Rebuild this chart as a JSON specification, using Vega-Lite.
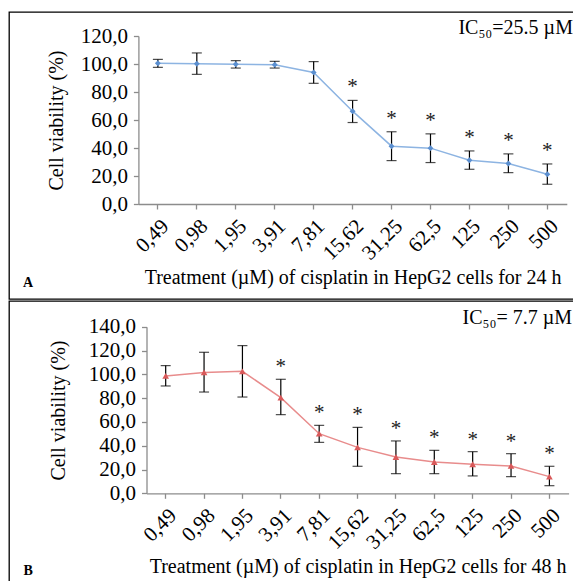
{
  "$schema": "https://vega.github.io/schema/vega-lite/v6.json",
  "padding": {"left": 8, "top": 11, "right": 0, "bottom": 0},
  "spacing": 0,
  "background": "white",
  "config": {
    "view": {"stroke": "black", "strokeWidth": 1.3},
    "font": "Liberation Serif",
    "axis": {"labelFont": "Liberation Serif", "titleFont": "Liberation Serif", "labelFontSize": 21, "titleFontSize": 20, "labelColor": "black", "titleColor": "black", "titleFontWeight": "normal", "domainColor": "#8c8c8c", "tickColor": "#8c8c8c", "domainWidth": 1.3, "tickWidth": 1.3, "grid": false, "tickSize": 5, "labelPadding": 6}
  },
  "datasets": {
    "h24": [
      {"conc": "0,49", "mean": 100.5, "lo": 97.6, "hi": 103.3, "sig": ""},
      {"conc": "0,98", "mean": 100.2, "lo": 92.6, "hi": 107.9, "sig": ""},
      {"conc": "1,95", "mean": 99.8, "lo": 97.1, "hi": 102.4, "sig": ""},
      {"conc": "3,91", "mean": 99.5, "lo": 97.1, "hi": 101.9, "sig": ""},
      {"conc": "7,81", "mean": 94.0, "lo": 86.2, "hi": 101.7, "sig": ""},
      {"conc": "15,62", "mean": 66.3, "lo": 58.2, "hi": 74.0, "sig": "*"},
      {"conc": "31,25", "mean": 41.3, "lo": 31.0, "hi": 51.6, "sig": "*"},
      {"conc": "62,5", "mean": 39.9, "lo": 29.6, "hi": 50.1, "sig": "*"},
      {"conc": "125", "mean": 31.3, "lo": 24.8, "hi": 37.9, "sig": "*"},
      {"conc": "250", "mean": 28.9, "lo": 22.4, "hi": 35.8, "sig": "*"},
      {"conc": "500", "mean": 21.2, "lo": 14.1, "hi": 28.6, "sig": "*"}
    ],
    "h48": [
      {"conc": "0,49", "mean": 98.6, "lo": 90.2, "hi": 107.3, "sig": ""},
      {"conc": "0,98", "mean": 101.6, "lo": 85.1, "hi": 118.5, "sig": ""},
      {"conc": "1,95", "mean": 102.5, "lo": 80.9, "hi": 124.1, "sig": ""},
      {"conc": "3,91", "mean": 80.4, "lo": 66.1, "hi": 95.8, "sig": "*"},
      {"conc": "7,81", "mean": 50.1, "lo": 42.8, "hi": 57.1, "sig": "*"},
      {"conc": "15,62", "mean": 38.6, "lo": 22.7, "hi": 55.4, "sig": "*"},
      {"conc": "31,25", "mean": 30.5, "lo": 16.5, "hi": 44.0, "sig": "*"},
      {"conc": "62,5", "mean": 26.3, "lo": 16.5, "hi": 36.1, "sig": "*"},
      {"conc": "125", "mean": 24.4, "lo": 14.6, "hi": 35.0, "sig": "*"},
      {"conc": "250", "mean": 23.0, "lo": 14.0, "hi": 33.3, "sig": "*"},
      {"conc": "500", "mean": 14.0, "lo": 6.4, "hi": 22.7, "sig": "*"}
    ]
  },
  "vconcat": [
    {
      "width": 570,
      "height": 287,
      "data": {"name": "h24"},
      "encoding": {
        "x": {"field": "conc", "type": "ordinal", "sort": null,
          "scale": {"range": [129.4, 557.8], "paddingInner": 0, "paddingOuter": 0},
          "axis": {"offset": -95, "labelAngle": -45, "title": "Treatment (µM) of cisplatin in HepG2 cells for 24 h", "titlePadding": 4}}
      },
      "layer": [
        {
          "mark": {"type": "rule", "color": "black", "strokeWidth": 1.2},
          "encoding": {
            "y": {"field": "lo", "type": "quantitative", "scale": {"domain": [0, 120], "range": [192, 24], "nice": false, "zero": false},
              "axis": {"offset": -129.4, "values": [0, 20, 40, 60, 80, 100, 120], "labelExpr": "replace(format(datum.value, '.1f'), '.', ',')", "title": "Cell viability (%)", "titlePadding": 14}},
            "y2": {"field": "hi"}
          }
        },
        {
          "mark": {"type": "tick", "color": "black", "size": 10, "thickness": 1.2, "orient": "horizontal"},
          "encoding": {"y": {"field": "lo", "type": "quantitative"}}
        },
        {
          "mark": {"type": "tick", "color": "black", "size": 10, "thickness": 1.2, "orient": "horizontal"},
          "encoding": {"y": {"field": "hi", "type": "quantitative"}}
        },
        {
          "mark": {"type": "line", "color": "#8db4e2", "strokeWidth": 1.5},
          "encoding": {"y": {"field": "mean", "type": "quantitative"}}
        },
        {
          "mark": {"type": "point", "shape": "diamond", "filled": true, "color": "#5b8fd0", "size": 35, "opacity": 1},
          "encoding": {"y": {"field": "mean", "type": "quantitative"}}
        },
        {
          "mark": {"type": "text", "fontSize": 21, "font": "Liberation Serif", "color": "#222", "baseline": "alphabetic", "dy": -7},
          "encoding": {"y": {"field": "hi", "type": "quantitative"}, "text": {"field": "sig"}}
        },
        {
          "data": {"values": [{"label": "IC₅₀=25.5 µM"}]},
          "mark": {"type": "text", "fontSize": 20, "font": "Liberation Serif", "color": "black", "align": "right", "baseline": "alphabetic", "dx": 25.6, "dy": -2},
          "encoding": {"x": {"datum": "500"}, "y": {"datum": 120}, "text": {"field": "label"}}
        },
        {
          "data": {"values": [{"label": "A"}]},
          "mark": {"type": "text", "fontSize": 14, "fontWeight": "bold", "font": "Liberation Serif", "color": "black", "align": "left", "baseline": "alphabetic", "dx": -134.8, "dy": 82.7},
          "encoding": {"x": {"datum": "0,49"}, "y": {"datum": 0}, "text": {"field": "label"}}
        }
      ]
    },
    {
      "width": 570,
      "height": 290,
      "data": {"name": "h48"},
      "encoding": {
        "x": {"field": "conc", "type": "ordinal", "sort": null,
          "scale": {"range": [137.5, 559.6], "paddingInner": 0, "paddingOuter": 0},
          "axis": {"offset": -97.7, "labelAngle": -45, "title": "Treatment (µM) of cisplatin in HepG2 cells for 48 h", "titlePadding": 4}}
      },
      "layer": [
        {
          "mark": {"type": "rule", "color": "black", "strokeWidth": 1.2},
          "encoding": {
            "y": {"field": "lo", "type": "quantitative", "scale": {"domain": [0, 140], "range": [192.3, 25.7], "nice": false, "zero": false},
              "axis": {"offset": -137.5, "values": [0, 20, 40, 60, 80, 100, 120, 140], "labelExpr": "replace(format(datum.value, '.1f'), '.', ',')", "title": "Cell viability (%)", "titlePadding": 20}},
            "y2": {"field": "hi"}
          }
        },
        {
          "mark": {"type": "tick", "color": "black", "size": 10, "thickness": 1.2, "orient": "horizontal"},
          "encoding": {"y": {"field": "lo", "type": "quantitative"}}
        },
        {
          "mark": {"type": "tick", "color": "black", "size": 10, "thickness": 1.2, "orient": "horizontal"},
          "encoding": {"y": {"field": "hi", "type": "quantitative"}}
        },
        {
          "mark": {"type": "line", "color": "#e88c8c", "strokeWidth": 1.5},
          "encoding": {"y": {"field": "mean", "type": "quantitative"}}
        },
        {
          "mark": {"type": "point", "shape": "triangle-up", "filled": true, "color": "#d9595a", "size": 45, "opacity": 1},
          "encoding": {"y": {"field": "mean", "type": "quantitative"}}
        },
        {
          "mark": {"type": "text", "fontSize": 21, "font": "Liberation Serif", "color": "#222", "baseline": "alphabetic", "dy": -6},
          "encoding": {"y": {"field": "hi", "type": "quantitative"}, "text": {"field": "sig"}}
        },
        {
          "data": {"values": [{"label": "IC₅₀= 7.7 µM"}]},
          "mark": {"type": "text", "fontSize": 20, "font": "Liberation Serif", "color": "black", "align": "right", "baseline": "alphabetic", "dx": 22.7, "dy": -3},
          "encoding": {"x": {"datum": "500"}, "y": {"datum": 140}, "text": {"field": "label"}}
        },
        {
          "data": {"values": [{"label": "B"}]},
          "mark": {"type": "text", "fontSize": 14, "fontWeight": "bold", "font": "Liberation Serif", "color": "black", "align": "left", "baseline": "alphabetic", "dx": -142.1, "dy": 82},
          "encoding": {"x": {"datum": "0,49"}, "y": {"datum": 0}, "text": {"field": "label"}}
        }
      ]
    }
  ]
}
